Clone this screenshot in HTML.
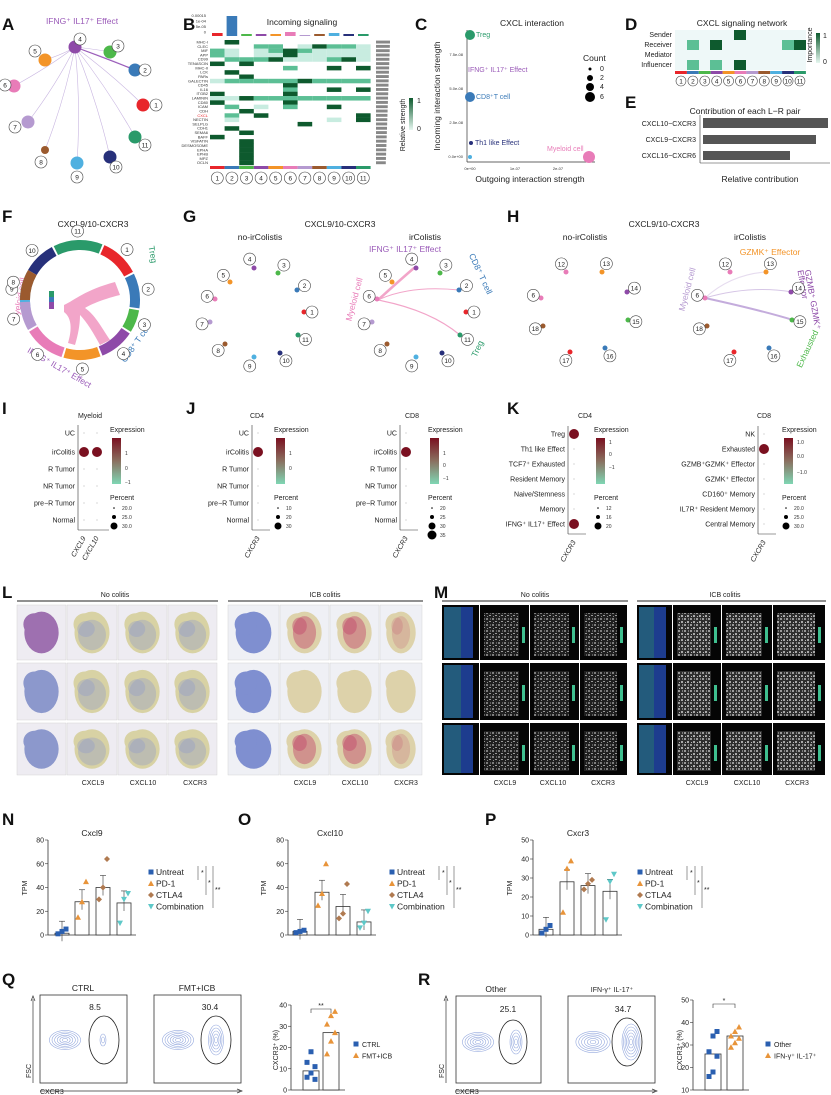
<!DOCTYPE html>
<html><head><meta charset="utf-8">
<style>
html,body{margin:0;padding:0;background:#fff;}
svg{display:block;font-family:"Liberation Sans",Arial,sans-serif;}
.pl{font-size:17px;font-weight:bold;fill:#111;}
.t{font-size:8.5px;fill:#222;}
.s{font-size:7px;fill:#222;}
.xs{font-size:4px;fill:#333;}
</style></head><body>
<svg id="s" width="831" height="1095" viewBox="0 0 831 1095" xmlns="http://www.w3.org/2000/svg">
<defs>
<linearGradient id="gexp" x1="0" y1="0" x2="0" y2="1"><stop offset="0" stop-color="#7a1020"/><stop offset="0.5" stop-color="#8a7060"/><stop offset="1" stop-color="#7fd6b4"/></linearGradient>
<linearGradient id="ggrn" x1="0" y1="0" x2="0" y2="1"><stop offset="0" stop-color="#0e5a2e"/><stop offset="1" stop-color="#e6f7f0"/></linearGradient>
<pattern id="noise" width="6" height="6" patternUnits="userSpaceOnUse"><rect width="6" height="6" fill="#222"/><rect x="0" y="0" width="2" height="2" fill="#8a8a8a"/><rect x="3" y="3" width="2" height="1" fill="#aaa"/><rect x="4" y="0" width="1" height="2" fill="#666"/><rect x="1" y="4" width="1" height="1" fill="#999"/></pattern>
<pattern id="noise2" width="6" height="6" patternUnits="userSpaceOnUse"><rect width="6" height="6" fill="#333"/><rect x="0" y="0" width="2" height="2" fill="#aaa"/><rect x="3" y="3" width="2" height="2" fill="#bbb"/><rect x="4" y="0" width="1" height="2" fill="#888"/><rect x="1" y="4" width="1" height="1" fill="#ccc"/></pattern>
</defs>

<!-- Panel letters -->
<text class="pl" x="2" y="30">A</text><text class="pl" x="183" y="30">B</text><text class="pl" x="415" y="30">C</text><text class="pl" x="625" y="30">D</text><text class="pl" x="625" y="108">E</text>
<text class="pl" x="2" y="222">F</text><text class="pl" x="183" y="222">G</text><text class="pl" x="507" y="222">H</text>
<text class="pl" x="2" y="414">I</text><text class="pl" x="186" y="414">J</text><text class="pl" x="507" y="414">K</text>
<text class="pl" x="2" y="598">L</text><text class="pl" x="434" y="598">M</text>
<text class="pl" x="2" y="825">N</text><text class="pl" x="238" y="825">O</text><text class="pl" x="485" y="825">P</text>
<text class="pl" x="2" y="985">Q</text><text class="pl" x="418" y="985">R</text>

<g id="A"><text x="82" y="24" class="t" fill="#9a5ab8" style="fill:#9a5ab8" text-anchor="middle">IFNG⁺ IL17⁺ Effect</text></g>
<g id="B"><text x="302" y="25" class="t" text-anchor="middle">Incoming signaling</text>
<text x="405" y="125" class="s" transform="rotate(-90 405 125)" text-anchor="middle">Relative strength</text>
<rect x="409" y="98" width="4" height="32" fill="url(#ggrn)"/><text x="417" y="103" class="s">1</text><text x="417" y="131" class="s">0</text></g>
<g id="C"><text x="532" y="26" class="t" text-anchor="middle">CXCL interaction</text>
<line x1="467" y1="30" x2="467" y2="162" stroke="#333" stroke-width="0.7"/><line x1="467" y1="162" x2="595" y2="162" stroke="#333" stroke-width="0.7"/>
<text x="440" y="96" class="t" transform="rotate(-90 440 96)" text-anchor="middle">Incoming interaction strength</text>
<text x="530" y="182" class="t" text-anchor="middle">Outgoing interaction strength</text>
<text x="463" y="56" class="xs" text-anchor="end">7.5e-08</text><text x="463" y="90" class="xs" text-anchor="end">5.0e-08</text><text x="463" y="124" class="xs" text-anchor="end">2.5e-08</text><text x="463" y="158" class="xs" text-anchor="end">0.0e+00</text>
<text x="470" y="170" class="xs" text-anchor="middle">0e+00</text><text x="515" y="170" class="xs" text-anchor="middle">1e-07</text><text x="558" y="170" class="xs" text-anchor="middle">2e-07</text>
<circle cx="470" cy="35" r="5" fill="#2a9a6a"/><text x="476" y="37" class="s" style="fill:#2a9a6a">Treg</text><text x="468" y="72" class="s" style="fill:#9a5ab8">IFNG⁺ IL17⁺ Effect</text>
<circle cx="470" cy="97" r="5" fill="#3a7ab8"/><text x="476" y="99" class="s" style="fill:#3a7ab8">CD8⁺T cell</text>
<circle cx="471" cy="143" r="2" fill="#27307a"/><text x="475" y="145" class="s" style="fill:#27307a">Th1 like Effect</text>
<circle cx="470" cy="157" r="2" fill="#4fb0e0"/>
<circle cx="589" cy="157" r="6" fill="#e87cb8"/><text x="547" y="151" class="s" style="fill:#e87cb8">Myeloid cell</text>
<text x="583" y="61" class="t">Count</text>
<circle cx="590" cy="69" r="1.5" fill="#000"/><text x="600" y="71" class="s">0</text>
<circle cx="590" cy="78" r="3" fill="#000"/><text x="600" y="80" class="s">2</text>
<circle cx="590" cy="87" r="4" fill="#000"/><text x="600" y="89" class="s">4</text>
<circle cx="590" cy="97" r="5" fill="#000"/><text x="600" y="99" class="s">6</text></g>
<g id="D"><text x="742" y="26" class="t" text-anchor="middle">CXCL signaling network</text>
<rect x="675" y="30" width="131" height="40" fill="#eef8f8"/>
<text x="672" y="37" class="s" text-anchor="end">Sender</text><text x="672" y="47" class="s" text-anchor="end">Receiver</text><text x="672" y="57" class="s" text-anchor="end">Mediator</text><text x="672" y="67" class="s" text-anchor="end">Influencer</text>
<rect x="734" y="30" width="12" height="10" fill="#0e5a2e"/>
<rect x="687" y="40" width="12" height="10" fill="#5cbf95"/><rect x="710" y="40" width="12" height="10" fill="#0e5a2e"/><rect x="782" y="40" width="12" height="10" fill="#5cbf95"/><rect x="794" y="40" width="12" height="10" fill="#0e5a2e"/>
<rect x="687" y="60" width="12" height="10" fill="#5cbf95"/><rect x="710" y="60" width="12" height="10" fill="#5cbf95"/><rect x="734" y="60" width="12" height="10" fill="#0e5a2e"/>
<text x="812" y="45" class="s" transform="rotate(-90 812 45)" text-anchor="middle">Importance</text>
<rect x="816" y="33" width="4" height="30" fill="url(#ggrn)"/><text x="823" y="38" class="s">1</text><text x="823" y="64" class="s">0</text></g>
<g id="E"><text x="745" y="114" class="t" text-anchor="middle">Contribution of each L−R pair</text>
<rect x="703" y="118" width="125" height="10" fill="#555"/><rect x="703" y="135" width="113" height="9" fill="#555"/><rect x="703" y="151" width="87" height="9" fill="#555"/>
<line x1="700" y1="115" x2="700" y2="163" stroke="#333" stroke-width="0.6"/><line x1="700" y1="163" x2="830" y2="163" stroke="#333" stroke-width="0.6"/>
<text x="696" y="126" class="s" text-anchor="end">CXCL10−CXCR3</text><text x="696" y="142" class="s" text-anchor="end">CXCL9−CXCR3</text><text x="696" y="158" class="s" text-anchor="end">CXCL16−CXCR6</text>
<text x="760" y="182" class="t" text-anchor="middle">Relative contribution</text></g>

<g id="F"><text x="93" y="227" class="t" text-anchor="middle">CXCL9/10-CXCR3</text>
<text x="22" y="300" class="t" style="fill:#e87cb8" transform="rotate(-80 22 300)" text-anchor="middle">Myeloid cell</text>
<text x="150" y="255" class="t" style="fill:#2a9a6a" transform="rotate(80 150 255)" text-anchor="middle">Treg</text>
<text x="138" y="345" class="t" style="fill:#3a7ab8" transform="rotate(-55 138 345)" text-anchor="middle">CD8⁺ T cell</text>
<text x="58" y="370" class="t" style="fill:#9a5ab8" transform="rotate(30 58 370)" text-anchor="middle">IFNG⁺ IL17⁺ Effect</text>
<path d="M64,305 C75,300 85,290 115,282 L120,295 C100,300 90,305 85,308 C95,315 100,325 110,340 L100,345 C92,330 85,320 80,315 C80,325 78,335 75,345 L68,343 C72,330 72,318 64,312 Z" fill="#f2a5c9"/>
<rect x="49" y="291" width="5" height="6" fill="#2a9a6a"/><rect x="49" y="297" width="5" height="5" fill="#3a7ab8"/><rect x="49" y="302" width="5" height="7" fill="#8e4aa8"/>
</g>
<g id="G"><text x="340" y="227" class="t" text-anchor="middle">CXCL9/10-CXCR3</text><text x="260" y="240" class="t" text-anchor="middle">no-irColistis</text><text x="425" y="240" class="t" text-anchor="middle">irColistis</text>
<text x="405" y="252" class="t" style="fill:#9a5ab8" text-anchor="middle">IFNG⁺ IL17⁺ Effect</text>
<text x="357" y="300" class="t" style="fill:#e87cb8" transform="rotate(-75 357 300)" text-anchor="middle">Myeloid cell</text>
<text x="478" y="275" class="t" style="fill:#3a7ab8" transform="rotate(65 478 275)" text-anchor="middle">CD8⁺ T cell</text>
<text x="480" y="350" class="t" style="fill:#2a9a6a" transform="rotate(-65 480 350)" text-anchor="middle">Treg</text>
<path d="M378,300 Q400,280 414,268" stroke="#f2a5c9" stroke-width="2.5" fill="none"/><path d="M378,300 Q410,285 459,290" stroke="#f2a5c9" stroke-width="1" fill="none"/><path d="M378,300 Q430,310 460,335" stroke="#f2a5c9" stroke-width="1.2" fill="none"/>
</g>
<g id="H"><text x="664" y="227" class="t" text-anchor="middle">CXCL9/10-CXCR3</text><text x="585" y="240" class="t" text-anchor="middle">no-irColistis</text><text x="750" y="240" class="t" text-anchor="middle">irColistis</text>
<text x="770" y="255" class="t" style="fill:#f39428" text-anchor="middle">GZMK⁺ Effector</text>
<text x="690" y="290" class="t" style="fill:#b59ad0" transform="rotate(-75 690 290)" text-anchor="middle">Myeloid cell</text>
<text x="810" y="300" class="t" style="fill:#8e4aa8" transform="rotate(80 810 300)" text-anchor="middle">GZMB⁺ GZMK⁺</text>
<text x="800" y="285" class="t" style="fill:#8e4aa8" transform="rotate(80 800 285)" text-anchor="middle">Effector</text>
<text x="810" y="350" class="t" style="fill:#4db84a" transform="rotate(-65 810 350)" text-anchor="middle">Exhausted</text>
<path d="M705,298 Q730,275 765,272" stroke="#e6dcef" stroke-width="1" fill="none"/><path d="M705,298 Q750,285 792,292" stroke="#d6c6e6" stroke-width="1" fill="none"/><path d="M705,298 Q760,310 793,320" stroke="#c4acdc" stroke-width="2" fill="none"/>
</g>

<!-- I J K -->
<g id="IJK">
<text x="90" y="418" class="s" text-anchor="middle">Myeloid</text>
<text x="257" y="418" class="s" text-anchor="middle">CD4</text><text x="412" y="418" class="s" text-anchor="middle">CD8</text>
<text x="585" y="418" class="s" text-anchor="middle">CD4</text><text x="764" y="418" class="s" text-anchor="middle">CD8</text>
</g>

<!-- L -->
<g id="L"><text x="115" y="597" class="s" text-anchor="middle">No colitis</text><line x1="17" y1="601" x2="218" y2="601" stroke="#222" stroke-width="1"/>
<text x="325" y="597" class="s" text-anchor="middle">ICB colitis</text><line x1="228" y1="601" x2="423" y2="601" stroke="#222" stroke-width="1"/>
<text x="93" y="785" class="s" text-anchor="middle">CXCL9</text><text x="143" y="785" class="s" text-anchor="middle">CXCL10</text><text x="195" y="785" class="s" text-anchor="middle">CXCR3</text>
<text x="305" y="785" class="s" text-anchor="middle">CXCL9</text><text x="355" y="785" class="s" text-anchor="middle">CXCL10</text><text x="406" y="785" class="s" text-anchor="middle">CXCR3</text></g>
<g id="M"><text x="535" y="597" class="s" text-anchor="middle">No colitis</text><line x1="442" y1="601" x2="628" y2="601" stroke="#222" stroke-width="1"/>
<text x="725" y="597" class="s" text-anchor="middle">ICB colitis</text><line x1="637" y1="601" x2="826" y2="601" stroke="#222" stroke-width="1"/>
<text x="505" y="785" class="s" text-anchor="middle">CXCL9</text><text x="553" y="785" class="s" text-anchor="middle">CXCL10</text><text x="603" y="785" class="s" text-anchor="middle">CXCR3</text>
<text x="697" y="785" class="s" text-anchor="middle">CXCL9</text><text x="747" y="785" class="s" text-anchor="middle">CXCL10</text><text x="797" y="785" class="s" text-anchor="middle">CXCR3</text></g>

<!-- NOP -->
<g id="NOP">
<text x="92" y="836" class="t" text-anchor="middle">Cxcl9</text><text x="330" y="836" class="t" text-anchor="middle">Cxcl10</text><text x="578" y="836" class="t" text-anchor="middle">Cxcr3</text>
<text x="27" y="888" class="s" transform="rotate(-90 27 888)" text-anchor="middle">TPM</text>
<text x="266" y="888" class="s" transform="rotate(-90 266 888)" text-anchor="middle">TPM</text>
<text x="512" y="888" class="s" transform="rotate(-90 512 888)" text-anchor="middle">TPM</text>
</g>

<!-- QR -->
<g id="QR">
<text x="83" y="991" class="t" text-anchor="middle">CTRL</text><text x="197" y="991" class="t" text-anchor="middle">FMT+ICB</text>
<text x="496" y="992" class="t" text-anchor="middle">Other</text><text x="612" y="992" class="s" text-anchor="middle">IFN-γ⁺ IL-17⁺</text>
<rect x="40" y="995" width="87" height="88" fill="none" stroke="#333" stroke-width="0.8"/><rect x="154" y="995" width="87" height="88" fill="none" stroke="#333" stroke-width="0.8"/>
<rect x="456" y="996" width="85" height="87" fill="none" stroke="#333" stroke-width="0.8"/><rect x="568" y="996" width="87" height="87" fill="none" stroke="#333" stroke-width="0.8"/>
<text x="95" y="1010" class="t" text-anchor="middle">8.5</text><text x="210" y="1010" class="t" text-anchor="middle">30.4</text>
<text x="508" y="1012" class="t" text-anchor="middle">25.1</text><text x="623" y="1012" class="t" text-anchor="middle">34.7</text>
<line x1="33" y1="1083" x2="33" y2="999" stroke="#333" stroke-width="0.7"/><path d="M31,1001 L33,996 L35,1001" fill="none" stroke="#333" stroke-width="0.7"/>
<line x1="40" y1="1091" x2="240" y2="1091" stroke="#333" stroke-width="0.7"/><path d="M237,1089 L242,1091 L237,1093" fill="none" stroke="#333" stroke-width="0.7"/>
<line x1="446" y1="1083" x2="446" y2="999" stroke="#333" stroke-width="0.7"/><path d="M444,1001 L446,996 L448,1001" fill="none" stroke="#333" stroke-width="0.7"/>
<line x1="456" y1="1091" x2="655" y2="1091" stroke="#333" stroke-width="0.7"/><path d="M652,1089 L657,1091 L652,1093" fill="none" stroke="#333" stroke-width="0.7"/>
<text x="31" y="1078" class="s" transform="rotate(-90 31 1078)">FSC</text><text x="40" y="1094" class="s">CXCR3</text>
<text x="444" y="1078" class="s" transform="rotate(-90 444 1078)">FSC</text><text x="455" y="1094" class="s">CXCR3</text>
<text x="278" y="1050" class="s" transform="rotate(-90 278 1050)" text-anchor="middle">CXCR3⁺ (%)</text>
<text x="682" y="1050" class="s" transform="rotate(-90 682 1050)" text-anchor="middle">CXCR3⁺ (%)</text>
</g>
</svg>
<script>
const S=document.getElementById('s');const NS='http://www.w3.org/2000/svg';
function el(t,a,p){const e=document.createElementNS(NS,t);for(const k in a)e.setAttribute(k,a[k]);(p||S).appendChild(e);return e;}
function txt(x,y,s,cls,anchor,extra){const e=el('text',Object.assign({x:x,y:y,'class':cls||'s','text-anchor':anchor||'start'},extra||{}));e.textContent=s;return e;}
const C={1:'#e8262b',2:'#3a7ab8',3:'#4db84a',4:'#8e4aa8',5:'#f39428',6:'#e87cb8',7:'#b59ad0',8:'#9b5a2e',9:'#4fb0e0',10:'#27307a',11:'#2a9a6a',12:'#e87cb8',13:'#f39428',14:'#8e4aa8',15:'#4db84a',16:'#3a7ab8',17:'#e8262b',18:'#9b5a2e'};
function circNum(x,y,n,r){el('circle',{cx:x,cy:y,r:r||5,fill:'#fff',stroke:'#444','stroke-width':0.6});txt(x,y+2.4,n,'s','middle',{style:'font-size:6.5px'});}
// A
const A={4:[75,47],3:[110,52],2:[135,70],1:[143,105],11:[135,137],10:[110,157],9:[77,163],8:[45,150],7:[28,122],6:[14,86],5:[45,60]};
for(const k in A){if(k!=4)el('path',{d:`M75,47 Q${(75+A[k][0])/2+5},${(47+A[k][1])/2} ${A[k][0]},${A[k][1]}`,stroke:'#c7b4e0','stroke-width':0.6,fill:'none'});}
el('path',{d:'M75,47 Q110,60 135,70',stroke:'#9a5ab8','stroke-width':1.2,fill:'none'});
const Aoff={4:[5,-8],3:[8,-6],2:[10,0],1:[13,0],11:[10,8],10:[6,10],9:[0,14],8:[-4,12],7:[-13,5],6:[-9,-1],5:[-10,-9]};
for(const k in A){const[x,y]=A[k];el('circle',{cx:x,cy:y,r:k==8?4:6.5,fill:C[k]});circNum(x+Aoff[k][0],y+Aoff[k][1],k,6);}
// B heatmap
const H=[[0,3,0,0,0,0,0,0,0,0,0],[0,0,0,2,2,0,1,3,2,2,1],[2,1,0,1,2,3,2,1,1,1,1],[2,1,0,1,1,3,1,1,1,1,1],[0,2,2,2,3,1,1,1,2,3,1],[3,0,3,0,0,0,0,0,0,0,0],[0,0,0,0,0,2,0,0,3,0,3],[0,3,0,0,0,0,0,0,0,0,0],[0,0,3,0,0,0,0,0,0,0,0],[1,2,2,2,2,2,3,2,2,2,2],[0,0,0,0,0,3,0,0,0,0,0],[0,0,0,0,0,2,0,0,3,0,3],[3,0,0,0,0,3,0,0,0,0,0],[1,1,3,2,2,2,2,2,2,2,2],[3,0,0,0,0,3,0,0,0,0,0],[0,2,0,1,0,2,0,0,3,0,0],[0,0,3,0,0,0,0,0,0,0,0],[0,2,0,3,0,0,0,0,0,0,3],[0,1,0,0,0,0,0,0,1,0,3],[0,0,0,0,0,0,3,0,0,0,0],[0,3,0,0,0,0,0,0,0,0,0],[0,0,3,0,0,0,0,0,0,0,0],[3,0,0,0,0,0,0,0,0,0,0]];
for(let i=0;i<6;i++)H.push([0,0,3,0,0,0,0,0,0,0,0]);
const rn=['MHC-I','CLEC','MIF','APP','CD99','TENASCIN','MHC-II','LCK','PARs','GALECTIN','CD45','IL16','ITGB2','LAMININ','CD80','ICAM','CDH','CXCL','NECTIN','SELPLG','CDH1','SEMA6','BAFF','VISFATIN','DESMOSOME','EPHA','EPHB','MPZ','OCLN'];
const hx=210,hy=40,cw=14.6,rh=125/29,lv=['#fff','#c8ece0','#5cbf95','#0e5a2e'];
H.forEach((r,i)=>{r.forEach((v,j)=>{if(v)el('rect',{x:hx+j*cw,y:hy+i*rh,width:cw,height:rh+0.2,fill:lv[v]});});
 const t=txt(hx-2,hy+i*rh+3.5,rn[i],'xs','end');if(rn[i]=='CXCL')t.setAttribute('style','fill:#e8262b');
 el('rect',{x:376,y:hy+i*rh+0.6,width:14-i*0.15,height:rh-1.4,fill:'#888'});});
const topb=[3,20,2,2,2,4,1,2,3,2,2];
for(let j=0;j<11;j++){el('rect',{x:hx+j*cw+2,y:36-topb[j],width:cw-4,height:topb[j],fill:C[j+1]});el('rect',{x:hx+j*cw,y:166,width:cw,height:3,fill:C[j+1]});circNum(hx+j*cw+cw/2,178,j+1,6);}
['0.00015','1e-04','5e-05','0'].forEach((s,i)=>txt(hx-4,17+i*5.5,s,'xs','end'));
// D bottom
for(let j=0;j<11;j++){el('rect',{x:675+j*11.9,y:71,width:11.9,height:3,fill:C[j+1]});circNum(681+j*11.9,81,j+1,5);}
// F ring
const cx=80,cy=300,R1=60,R0=50;const segs=[[9,-100,-62],[10,-60,-28],[11,-26,22],[1,24,62],[2,64,98],[3,100,122],[4,124,158],[5,160,196],[6,198,238],[7,240,268],[8,270,300]];
segs.forEach(([k,a,b])=>{const r=d=>(d-90)*Math.PI/180;const p=(R,d)=>[cx+R*Math.cos(r(d)),cy+R*Math.sin(r(d))];const[a1,a2]=[p(R1,a),p(R1,b)],[b1,b2]=[p(R0,b),p(R0,a)];
 el('path',{d:`M${a1} A${R1},${R1} 0 0 1 ${a2} L${b1} A${R0},${R0} 0 0 0 ${b2}Z`,fill:C[k]});
 const m=p(R1+9,(a+b)/2);circNum(m[0],m[1],k,6);});
// G H nodes
const G={4:[254,268],3:[278,273],2:[297,290],1:[304,312],11:[298,335],10:[280,353],9:[254,357],8:[225,344],7:[210,322],6:[215,299],5:[230,282]};
[0,162].forEach(o=>{for(const k in G){const[x,y]=G[k];el('circle',{cx:x+o,cy:y,r:2.5,fill:C[k]});const dx=x-257,dy=y-312,l=Math.hypot(dx,dy);circNum(x+o+dx/l*4-(dx<0?4:-4),y+dy/l*9,k,6);}});
const Hh={12:[566,272],13:[602,272],14:[627,292],15:[628,320],16:[605,348],17:[570,352],18:[543,326],6:[541,298]};
[0,164].forEach(o=>{for(const k in Hh){const[x,y]=Hh[k];el('circle',{cx:x+o,cy:y,r:2.5,fill:C[k]});const dx=x-585,dy=y-312,l=Math.hypot(dx,dy);circNum(x+o+dx/l*6-(dx<0?2:-2),y+dy/l*9-(k==6?0:0),k,6);}});
// I J K dotplots
function dot(ax,rows,ys,cols,big,legx,ticks,pct){el('line',{x1:ax,y1:ys[0]-8,x2:ax,y2:ys[ys.length-1]+10,stroke:'#333','stroke-width':0.6});
 el('line',{x1:ax,y1:ys[ys.length-1]+10,x2:ax+cols.length*13+5,y2:ys[ys.length-1]+10,stroke:'#333','stroke-width':0.6});
 rows.forEach((r,i)=>{txt(ax-3,ys[i]+2.5,r,'s','end');cols.forEach((c,j)=>el('circle',{cx:ax+6+j*13,cy:ys[i],r:0.6,fill:'#bbb'}));});
 big.forEach(([i,j])=>el('circle',{cx:ax+6+j*13,cy:ys[i],r:5,fill:'#7a1020'}));
 cols.forEach((c,j)=>{const x=ax+8+j*13,y=ys[ys.length-1]+18;txt(x,y,c,'s','end',{transform:`rotate(-60 ${x} ${y})`,style:'font-style:italic'});});
 txt(legx,432,'Expression','s');el('rect',{x:legx+2,y:438,width:9,height:46,fill:'url(#gexp)'});ticks.forEach(([s,y])=>txt(legx+15,y,s,'xs','start',{style:'font-size:5px'}));
 txt(legx,500,'Percent','s');pct.forEach((s,i)=>{el('circle',{cx:legx+4,cy:508+i*9,r:[0.8,2,3.5,4.5][i],fill:'#000'});txt(legx+12,510+i*9,s,'xs','start',{style:'font-size:5px'});});}
const r6=['UC','irColitis','R Tumor','NR Tumor','pre−R Tumor','Normal'],y6=[433,452,469,486,503,520];
dot(78,r6,y6,['CXCL9','CXCL10'],[[1,0],[1,1]],110,[['1',455],['0',470],['−1',484]],['20.0','25.0','30.0']);
dot(252,r6,y6,['CXCR3'],[[1,0]],274,[['1',455],['0',470]],['10','20','30']);
dot(400,r6,y6,['CXCR3'],[[1,0]],428,[['1',455],['0',467],['−1',480]],['20','25','30','35']);
const k4=['Treg','Th1 like Effect','TCF7⁺ Exhausted','Resident Memory','Naive/Stemness','Memory','IFNG⁺ IL17⁺ Effect'],yk=[434,449,464,479,494,509,524];
dot(568,k4,yk,['CXCR3'],[[0,0],[6,0]],594,[['1',444],['0',456],['−1',469]],['12','16','20']);
const k8=['NK','Exhausted','GZMB⁺GZMK⁺ Effector','GZMK⁺ Effector','CD160⁺ Memory','IL7R⁺ Resident Memory','Central Memory'];
dot(758,k8,yk,['CXCR3'],[[1,0]],782,[['1.0',444],['0.0',458],['−1.0',474]],['20.0','25.0','30.0']);
// L images
const Lc=[17,67,118,168,218],Ic=[228,280,330,380,423],rows=[[605,660],[663,720],[723,775]];
function blob(x,y,w,h,f,op){el('ellipse',{cx:x+w/2,cy:y+h/2,rx:w*0.35,ry:h*0.38,fill:f,opacity:op||1});el('ellipse',{cx:x+w*0.35,cy:y+h*0.35,rx:w*0.22,ry:h*0.2,fill:f,opacity:op||1});}
rows.forEach(([a,b],ri)=>{for(let j=0;j<4;j++){const x=Lc[j],w=Lc[j+1]-x-1;el('rect',{x:x,y:a,width:w,height:b-a,fill:'#eeecf2',stroke:'#ccc','stroke-width':0.4});
  blob(x,a,w,b-a,j==0?(ri==0?'#9e70b0':'#8c98cc'):'#d8d2a4');if(j>0)blob(x+5,a+10,w-10,b-a-15,'#8c98cc',0.35);}
 for(let j=0;j<4;j++){const x=Ic[j],w=Ic[j+1]-x-1;el('rect',{x:x,y:a,width:w,height:b-a,fill:'#eff0f5',stroke:'#ccc','stroke-width':0.4});
  blob(x,a,w,b-a,j==0?'#7f8fd0':'#ddd2aa');if(j>0&&ri!=1)blob(x+8,a+6,w-16,b-a-12,'#c0446a',j==3?0.2:0.45);}});
// M images
const Mn=[442,480,530,580,628],Mi=[637,673,722,773,826];
rows.forEach(([a,b])=>{[Mn,Mi].forEach((M,mi)=>{for(let j=0;j<4;j++){const x=M[j],w=M[j+1]-x-1;el('rect',{x:x,y:a,width:w,height:b-a,fill:'#050505'});
 if(j==0){el('rect',{x:x+2,y:a+2,width:w-8,height:b-a-4,fill:'#1d3c8e'});el('rect',{x:x+2,y:a+2,width:w-20,height:b-a-4,fill:'#2a7a6a',opacity:0.5});}
 else{el('rect',{x:x+4,y:a+8,width:w-14,height:b-a-12,fill:mi?'url(#noise2)':'url(#noise)',opacity:0.9});el('rect',{x:x+w-7,y:a+22,width:3,height:16,fill:'#3fbf8f'});}}});});
// N O P bar charts
function bars(ax,top,bot,max,ticks,xs,vals,pts,legx,title){el('line',{x1:ax,y1:top,x2:ax,y2:bot,stroke:'#333','stroke-width':0.8});el('line',{x1:ax,y1:bot,x2:xs[xs.length-1]+12,y2:bot,stroke:'#333','stroke-width':0.8});
 ticks.forEach(t=>{const y=bot-(bot-top)*t/max;el('line',{x1:ax-3,y1:y,x2:ax,y2:y,stroke:'#333','stroke-width':0.6});txt(ax-4,y+2.5,String(t),'s','end');});
 const sh=['sq','tri','dia','inv'],col=['#2a5fb0','#e8943a','#b07a50','#5ec8c8'];
 xs.forEach((x,i)=>{const h=(bot-top)*vals[i]/max;el('rect',{x:x-7,y:bot-h,width:14,height:h,fill:'#fff',stroke:'#333','stroke-width':0.8});
  el('line',{x1:x,y1:bot-h-12,x2:x,y2:bot-h+8,stroke:'#333','stroke-width':0.6});el('line',{x1:x-3,y1:bot-h-12,x2:x+3,y2:bot-h-12,stroke:'#333','stroke-width':0.6});
  pts[i].forEach((v,k)=>{const y=bot-(bot-top)*v/max,px=x-4+k*4;mk(px,y,sh[i],col[i]);});});
 ['Untreat','PD-1','CTLA4','Combination'].forEach((s,i)=>{mk(legx,872+i*11.5,sh[i],col[i]);txt(legx+5,875+i*11.5,s,'t');});
 [[legx+47,866,880],[legx+55,866,895],[legx+62,866,908]].forEach(([x,a,b])=>el('line',{x1:x,y1:a,x2:x,y2:b,stroke:'#333','stroke-width':0.5}));txt(legx+50,875,'*','s');txt(legx+57,885,'*','s');txt(legx+64,892,'**','s');}
function mk(x,y,s,c){if(s=='sq')el('rect',{x:x-2.5,y:y-2.5,width:5,height:5,fill:c});else if(s=='tri')el('path',{d:`M${x},${y-3} L${x+3},${y+2.5} L${x-3},${y+2.5}Z`,fill:c});else if(s=='dia')el('path',{d:`M${x},${y-3} L${x+3},${y} L${x},${y+3} L${x-3},${y}Z`,fill:c});else el('path',{d:`M${x-3},${y-2.5} L${x+3},${y-2.5} L${x},${y+3}Z`,fill:c});}
bars(48,840,935,80,[0,20,40,60,80],[62,82,103,124],[1.5,28,40,27],[[1,3,5],[15,28,45],[30,40,64],[10,30,35]],151);
bars(288,840,935,80,[0,20,40,60,80],[300,322,343,364],[3,36,24,11],[[2,3,4],[25,35,60],[14,18,43],[6,10,20]],392);
bars(533,840,935,50,[0,10,20,30,40,50],[546,567,588,610],[3,28,26,23],[[1,3,5],[12,35,39],[24,27,29],[8,28,32]],640);
// flow plots
function contour(x,y,sc,g){for(let i=1;i<=6;i++)el('ellipse',{cx:x,cy:y,rx:i*2.6*sc,ry:i*1.6*sc,fill:'none',stroke:'#7b93d6','stroke-width':0.6,opacity:0.8});
 for(let i=1;i<=g;i++)el('ellipse',{cx:x+38,cy:y,rx:i*1.5,ry:i*3,fill:'none',stroke:'#7b93d6','stroke-width':0.6,opacity:0.8});}
contour(65,1040,1,2);el('ellipse',{cx:104,cy:1040,rx:15,ry:24,fill:'none',stroke:'#222','stroke-width':0.8});
contour(178,1040,1,5);el('ellipse',{cx:216,cy:1040,rx:15,ry:24,fill:'none',stroke:'#222','stroke-width':0.8});
contour(478,1042,1,4);el('ellipse',{cx:513,cy:1042,rx:14,ry:22,fill:'none',stroke:'#222','stroke-width':0.8});
contour(593,1042,1.1,6);el('ellipse',{cx:627,cy:1042,rx:15,ry:24,fill:'none',stroke:'#222','stroke-width':0.8});
function qbar(ax,top,bot,max,min,ticks,xs,vals,pts,leg,legx,star){el('line',{x1:ax,y1:top,x2:ax,y2:bot,stroke:'#333','stroke-width':0.8});el('line',{x1:ax,y1:bot,x2:xs[1]+14,y2:bot,stroke:'#333','stroke-width':0.8});
 const Y=v=>bot-(bot-top)*(v-min)/(max-min);ticks.forEach(t=>{el('line',{x1:ax-3,y1:Y(t),x2:ax,y2:Y(t),stroke:'#333','stroke-width':0.6});txt(ax-4,Y(t)+2.5,String(t),'s','end');});
 const sh=['sq','tri'],col=['#2a5fb0','#e8943a'];xs.forEach((x,i)=>{el('rect',{x:x-8,y:Y(vals[i]),width:16,height:bot-Y(vals[i]),fill:'#fff',stroke:'#333','stroke-width':0.8});pts[i].forEach((v,k)=>mk(x-4+(k%3)*4,Y(v),sh[i],col[i]));
  mk(legx,1044+i*11.5,sh[i],col[i]);txt(legx+6,1047+i*11.5,leg[i],'s');});
 el('path',{d:`M${xs[0]},${top+8} L${xs[0]},${top+4} L${xs[1]},${top+4} L${xs[1]},${top+8}`,fill:'none',stroke:'#333','stroke-width':0.6});txt((xs[0]+xs[1])/2,top+3,star,'s','middle');}
qbar(291,1005,1090,40,0,[0,10,20,30,40],[311,331],[9,27],[[6,8,11,13,18,5],[17,23,27,31,35,37]],['CTRL','FMT+ICB'],356,'**');
qbar(693,1000,1090,50,10,[10,20,30,40,50],[713,735],[26,34],[[16,18,25,27,34,36],[29,31,33,34,36,38]],['Other','IFN-γ⁺ IL-17⁺'],768,'*');
</script>
</body></html>
